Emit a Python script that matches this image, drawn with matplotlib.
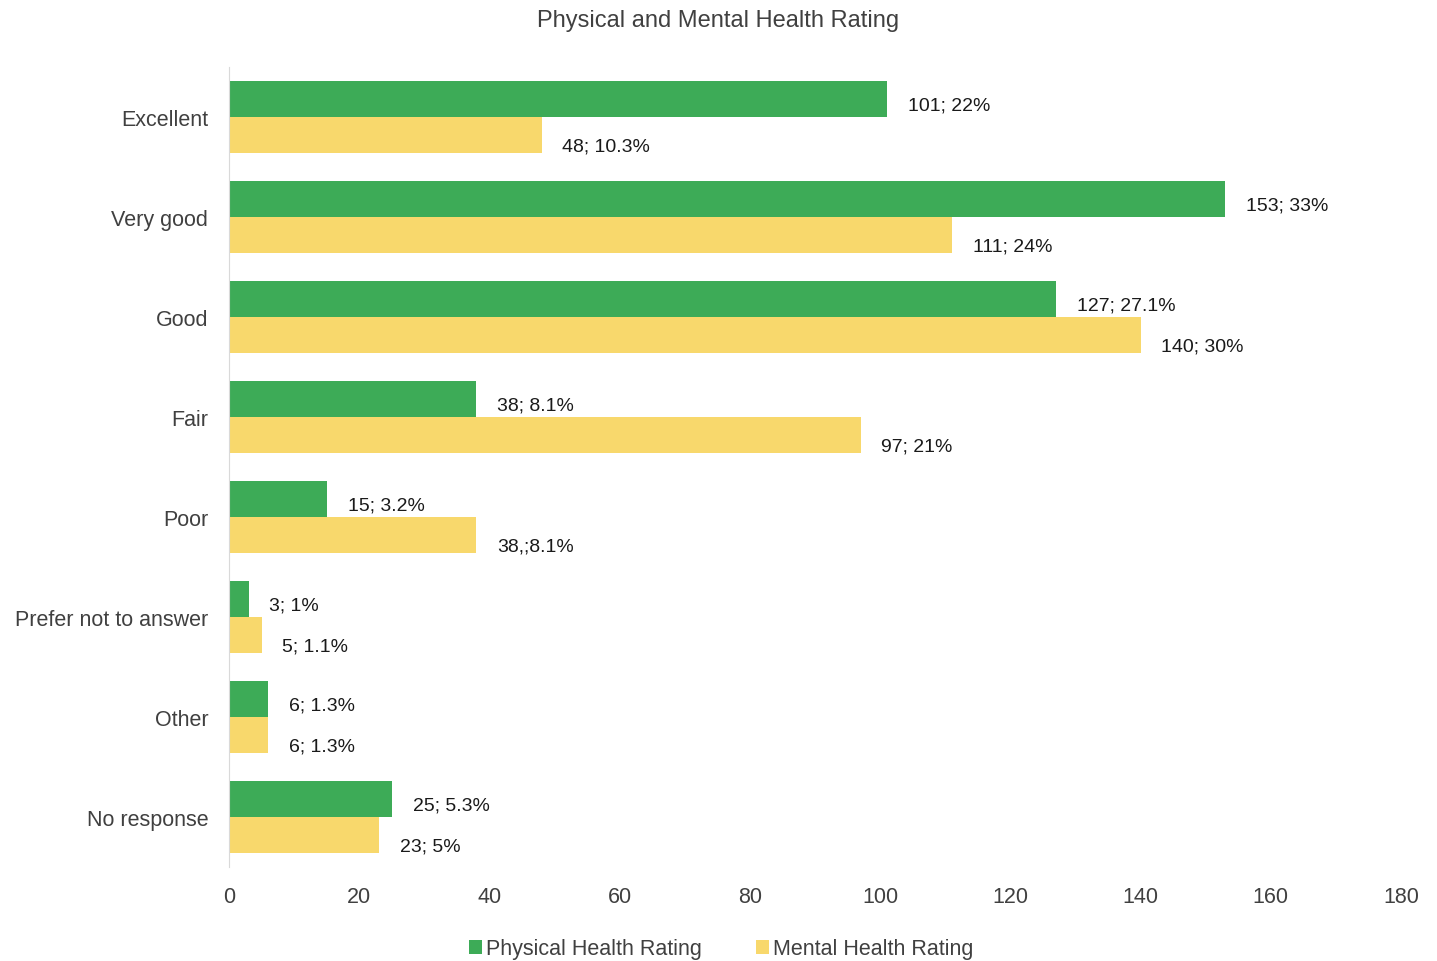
import numpy as np
import matplotlib.pyplot as plt

plt.rcParams['font.family'] = ['Liberation Sans', 'DejaVu Sans']

categories = ['Excellent', 'Very good', 'Good', 'Fair', 'Poor',
              'Prefer not to answer', 'Other', 'No response']
physical = [101, 153, 127, 38, 15, 3, 6, 25]
mental = [48, 111, 140, 97, 38, 5, 6, 23]
physical_labels = ['101; 22%', '153; 33%', '127; 27.1%', '38; 8.1%',
                   '15; 3.2%', '3; 1%', '6; 1.3%', '25; 5.3%']
mental_labels = ['48; 10.3%', '111; 24%', '140; 30%', '97; 21%',
                 '38,;8.1%', '5; 1.1%', '6; 1.3%', '23; 5%']

green = '#3dab57'
yellow = '#f8d86c'
text_col = '#404040'

fig = plt.figure(figsize=(14.37, 9.62), dpi=100)
ax = fig.add_axes([0.1594, 0.0977, 0.8156, 0.8313])

y = np.arange(len(categories))
h = 0.36
bp = ax.barh(y - h / 2, physical, height=h, color=green, label='Physical Health Rating')
bm = ax.barh(y + h / 2, mental, height=h, color=yellow, label='Mental Health Rating')

# value labels next to the bars
for rect, lab in zip(bp, physical_labels):
    ax.annotate(lab, (rect.get_width(), rect.get_y() + rect.get_height() / 2),
                xytext=(15, -4), textcoords='offset points', va='center',
                fontsize=14, color='#1a1a1a')
for rect, lab in zip(bm, mental_labels):
    ax.annotate(lab, (rect.get_width(), rect.get_y() + rect.get_height() / 2),
                xytext=(15, -8), textcoords='offset points', va='center',
                fontsize=14, color='#1a1a1a')

ax.set_xlim(0, 180)
ax.set_xticks(range(0, 181, 20))
ax.set_ylim(len(categories) - 0.5, -0.5)
ax.set_yticks(y)
ax.set_yticklabels(categories)
ax.tick_params(axis='both', length=0, labelsize=15.5, labelcolor=text_col)
ax.tick_params(axis='y', pad=15)
ax.tick_params(axis='x', pad=14)

for s in ['top', 'right', 'bottom']:
    ax.spines[s].set_visible(False)
ax.spines['left'].set_color('#d9d9d9')

fig.suptitle('Physical and Mental Health Rating', y=0.99, fontsize=17, color=text_col)

ax.legend(loc='upper center', bbox_to_anchor=(0.42, -0.065), ncol=2, frameon=False,
          fontsize=15.5, handlelength=0.6, handleheight=0.6, handletextpad=0.2,
          columnspacing=2.5, labelcolor=text_col)

fig.savefig('out.png', dpi=100)
